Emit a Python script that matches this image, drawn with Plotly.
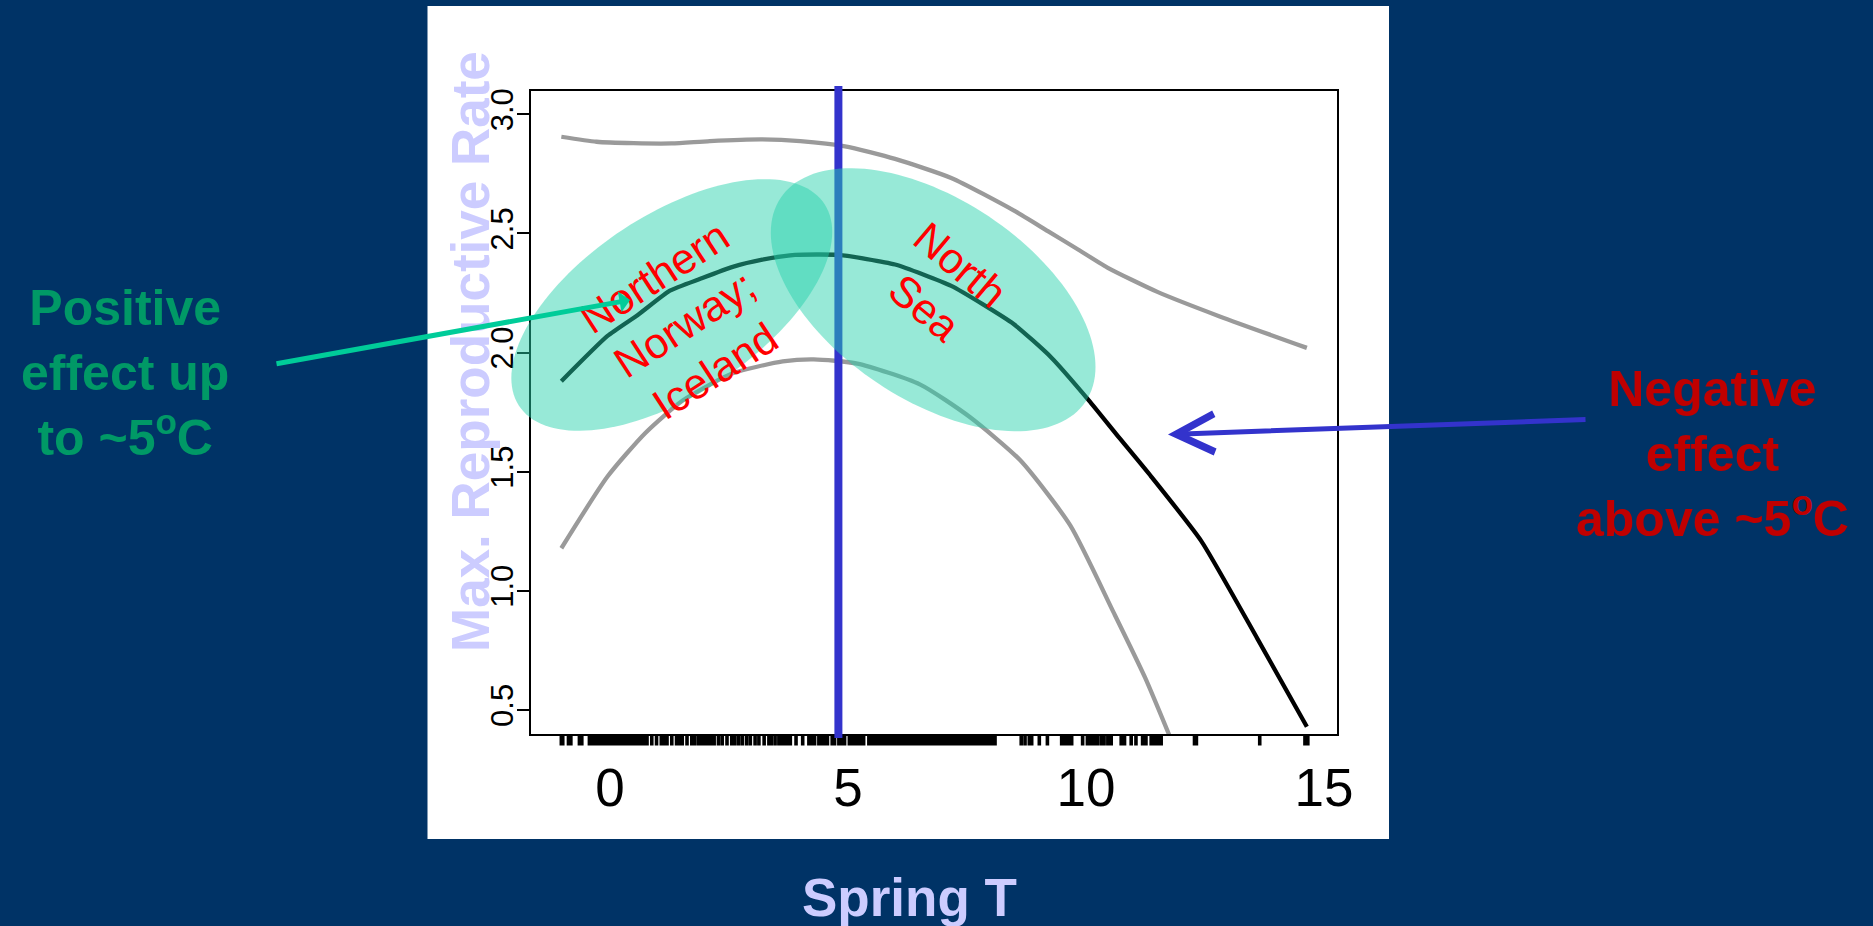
import numpy as np
import plotly.graph_objects as go

# ---------------- data ----------------
fit_temp = [-1.02, -0.05, 0.6, 1.26, 1.9, 2.58, 3.2, 3.89, 4.81, 5.99, 7.17, 8.48,
            9.27, 10.06, 10.71, 11.37, 12.42, 13.60, 14.64]
fit_rate = [1.88, 2.07, 2.16, 2.26, 2.31, 2.36, 2.39, 2.41, 2.41, 2.37, 2.28, 2.12,
            1.98, 1.80, 1.64, 1.48, 1.21, 0.80, 0.43]

upper_temp = [-1.02, -0.28, 0.5, 1.3, 2.1, 3.2, 4.0, 4.94, 5.99, 7.17, 8.48, 9.2, 9.80,
              10.45, 11.50, 12.81, 14.64]
upper_rate = [2.906, 2.885, 2.879, 2.878, 2.888, 2.895, 2.888, 2.866, 2.813, 2.733,
              2.597, 2.51, 2.437, 2.357, 2.255, 2.152, 2.02]

lower_temp = [-1.02, -0.05, 0.74, 1.53, 2.58, 3.63, 4.28, 5.20, 6.51, 7.56, 8.62,
              9.67, 10.58, 11.24, 11.78]
lower_rate = [1.179, 1.480, 1.662, 1.799, 1.913, 1.963, 1.972, 1.954, 1.867, 1.73,
              1.548, 1.275, 0.910, 0.637, 0.38]

rug_temp = [-1.02, -0.99, -0.87, -0.82, -0.64, -0.59, -0.43, -0.37,
            -0.33, -0.28, -0.22, -0.17, -0.11, -0.06, 0.0, 0.05,
            0.12, 0.18, 0.24, 0.30, 0.36, 0.42, 0.48, 0.54, 0.60, 0.66, 0.72, 0.78,
            0.88, 0.98, 1.08, 1.14, 1.20, 1.30, 1.40, 1.46, 1.52, 1.62, 1.72, 1.78,
            1.86, 1.93, 2.00, 2.07, 2.13, 2.19, 2.28, 2.36, 2.46, 2.56, 2.62, 2.70,
            2.78, 2.87, 2.95, 3.05, 3.13, 3.24, 3.34, 3.39, 3.47, 3.55, 3.61, 3.67,
            3.73, 3.79, 3.91, 4.05, 4.18, 4.24, 4.30, 4.39, 4.45, 4.51, 4.57, 4.67,
            4.72, 4.81,
            4.87, 4.93, 5.03, 5.09, 5.15, 5.21, 5.27, 5.33, 5.44, 5.50, 5.56, 5.62,
            5.68, 5.74, 5.80, 5.86, 5.92, 5.98, 6.04, 6.10, 6.16, 6.22, 6.28, 6.34,
            6.40, 6.46, 6.52, 6.58, 6.64, 6.70, 6.76, 6.82, 6.88, 6.94, 7.00, 7.06,
            7.12, 7.18, 7.24, 7.30, 7.36, 7.42, 7.48, 7.54, 7.60, 7.66, 7.72, 7.78,
            7.84, 7.90, 7.96, 8.02, 8.09,
            8.64, 8.72, 8.81, 8.86, 9.02, 9.19, 9.49, 9.56, 9.63, 9.70, 9.93, 10.03,
            10.10, 10.17, 10.24, 10.32, 10.38, 10.46, 10.53, 10.74, 10.81, 10.95,
            11.05, 11.19, 11.26, 11.37, 11.44, 11.51, 11.58, 12.28, 12.32, 13.65,
            14.60, 14.66]

x_tick_vals = [0, 5, 10, 15]
y_tick_vals = [0.5, 1.0, 1.5, 2.0, 2.5, 3.0]
y_tick_text = ["0.5", "1.0", "1.5", "2.0", "2.5", "3.0"]

threshold_temp = 4.8

# highlighted regions (centre, half-extents, correlation) in data units
regions = [
    dict(cx=1.30, cy=2.200, hx=3.37, hy=0.528, r=0.58),
    dict(cx=6.79, cy=2.222, hx=3.41, hy=0.552, r=-0.51),
]

# ---------------- layout geometry ----------------
W, H = 1873, 926
BOX_L, BOX_R, BOX_T, BOX_B = 531, 1337, 91, 734
X_RANGE = [-1.657, 15.273]
Y_RANGE = [0.3995, 3.098]


def px2x(px):
    return (px - BOX_L) / (BOX_R - BOX_L)


def py2y(py):
    return (BOX_B - py) / (BOX_B - BOX_T)


def dx2p(x):
    return (x - X_RANGE[0]) / (X_RANGE[1] - X_RANGE[0])


def dy2p(y):
    return (y - Y_RANGE[0]) / (Y_RANGE[1] - Y_RANGE[0])


FONT = "Arial, Liberation Sans, Helvetica, sans-serif"
GRAY = "#9a9a9a"

fig = go.Figure()

fig.add_trace(go.Scatter(x=upper_temp, y=upper_rate, mode="lines",
                         line=dict(color=GRAY, width=4.3, shape="spline", smoothing=0.6),
                         hoverinfo="skip"))
fig.add_trace(go.Scatter(x=lower_temp, y=lower_rate, mode="lines",
                         line=dict(color=GRAY, width=4.3, shape="spline", smoothing=0.6),
                         hoverinfo="skip"))
fig.add_trace(go.Scatter(x=fit_temp, y=fit_rate, mode="lines",
                         line=dict(color="black", width=4.3, shape="spline", smoothing=0.5),
                         hoverinfo="skip"))
# carrier trace for the labelled overlay axis
fig.add_trace(go.Scatter(x=x_tick_vals, y=[None] * len(x_tick_vals), xaxis="x2",
                         mode="markers", showlegend=False, hoverinfo="skip"))

shapes = []
# white slide panel behind the chart
shapes.append(dict(type="rect", xref="paper", yref="paper", layer="below",
                   x0=px2x(427.5), x1=px2x(1389), y0=py2y(839), y1=py2y(6),
                   fillcolor="white", line=dict(width=0)))
# rug of observations below the frame (x in data units)
rug_y0, rug_y1 = py2y(BOX_B), py2y(BOX_B + 11.5)
rug_path = " ".join(f"M{v},{rug_y0:.5f}V{rug_y1:.5f}" for v in rug_temp)
shapes.append(dict(type="path", xref="x", yref="paper", layer="above",
                   path=rug_path, line=dict(color="black", width=3.6)))
# threshold line
shapes.append(dict(type="line", xref="x", yref="paper", layer="above",
                   x0=threshold_temp, x1=threshold_temp,
                   y0=py2y(738), y1=py2y(86),
                   line=dict(color="#3333cc", width=8)))
# highlighted regions
t = np.linspace(0, 2 * np.pi, 145)
for e in regions:
    ex = e["cx"] + e["hx"] * np.cos(t)
    ey = e["cy"] + e["hy"] * (e["r"] * np.cos(t) + np.sqrt(1 - e["r"] ** 2) * np.sin(t))
    pts = [f"{dx2p(a):.5f},{dy2p(b):.5f}" for a, b in zip(ex, ey)]
    path = "M " + " L ".join(pts) + " Z"
    shapes.append(dict(type="path", xref="paper", yref="paper", layer="above",
                       path=path, fillcolor="rgba(38,209,172,0.48)", line=dict(width=0)))

annotations = [
    dict(text="<b>Max. Reproductive Rate</b>", xref="paper", yref="paper",
         x=px2x(470), y=py2y(352), textangle=-90, showarrow=False,
         font=dict(family=FONT, size=53, color="#ccccff"),
         xanchor="center", yanchor="middle"),
    dict(text="<b>Spring T</b>", xref="paper", yref="paper",
         x=px2x(909), y=py2y(897), showarrow=False,
         font=dict(family=FONT, size=53, color="#ccccff"),
         xanchor="center", yanchor="middle"),
    dict(text="<b>Positive<br>effect up<br>to ~5<sup>o</sup>C</b>", xref="paper", yref="paper",
         x=px2x(125), y=py2y(373), showarrow=False, align="center",
         font=dict(family=FONT, size=50, color="#009966"),
         xanchor="center", yanchor="middle"),
    dict(text="<b>Negative<br>effect<br>above ~5<sup>o</sup>C</b>", xref="paper", yref="paper",
         x=px2x(1712), y=py2y(454), showarrow=False, align="center",
         font=dict(family=FONT, size=50, color="#c00000"),
         xanchor="center", yanchor="middle"),
    dict(text="Northern<br>Norway;<br>Iceland", xref="x", yref="y",
         x=1.57, y=2.12, textangle=-33, showarrow=False, align="center",
         font=dict(family=FONT, size=43, color="#ff0000"),
         xanchor="center", yanchor="middle"),
    dict(text="North<br>Sea", xref="x", yref="y",
         x=6.98, y=2.28, textangle=40, showarrow=False, align="center",
         font=dict(family=FONT, size=43, color="#ff0000"),
         xanchor="center", yanchor="middle"),
    # green arrow
    dict(text="", xref="paper", yref="paper", x=px2x(630), y=py2y(300),
         ax=275 - 630, ay=364 - 300, showarrow=True, arrowhead=1, arrowsize=0.7,
         arrowwidth=5, arrowcolor="#00cc99"),
    # blue arrow
    dict(text="", xref="paper", yref="paper", x=px2x(1168), y=py2y(434.5),
         ax=1587 - 1168, ay=419.5 - 434.5, showarrow=True, arrowhead=5, arrowsize=1.5,
         arrowwidth=5, arrowcolor="#3333cc"),
]

fig.update_layout(
    width=W, height=H,
    margin=dict(l=BOX_L, r=W - BOX_R, t=BOX_T, b=H - BOX_B, pad=0),
    paper_bgcolor="#003366", plot_bgcolor="white",
    showlegend=False,
    shapes=shapes, annotations=annotations,
    xaxis=dict(range=X_RANGE, showline=True, mirror=True, linecolor="black", linewidth=1.6,
               showgrid=False, zeroline=False, showticklabels=False, ticks=""),
    # overlay x axis carrying the numeric labels
    xaxis2=dict(range=X_RANGE, overlaying="x", anchor="y", side="bottom",
                showline=False, showgrid=False, zeroline=False,
                tickmode="array", tickvals=x_tick_vals, ticks="",
                tickfont=dict(family=FONT, size=53, color="black"),
                ticklabelstandoff=18),
    yaxis=dict(range=Y_RANGE, showline=True, mirror=True, linecolor="black", linewidth=1.6,
               showgrid=False, zeroline=False, tickvals=y_tick_vals, ticktext=y_tick_text,
               ticks="outside", ticklen=12, tickwidth=1.6, tickcolor="black",
               tickangle=-90, ticklabelstandoff=-8,
               tickfont=dict(family=FONT, size=31, color="black")),
)

fig.write_html("out.html", config={"displayModeBar": False})
